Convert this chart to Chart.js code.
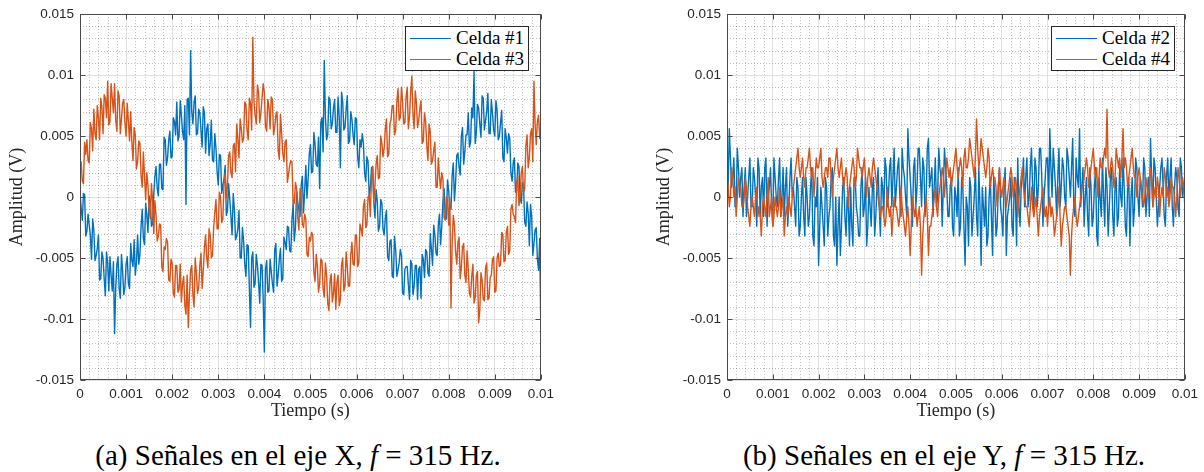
<!DOCTYPE html>
<html><head><meta charset="utf-8">
<script src="https://cdn.jsdelivr.net/npm/chart.js@4.4.1/dist/chart.umd.min.js"></script>
<style>
html,body{margin:0;padding:0;background:#fff;width:1204px;height:472px;overflow:hidden;}
canvas{position:absolute;top:0;}
.legend{position:absolute;border:1px solid #262626;background:#fff;box-sizing:border-box;}
.ln{position:absolute;left:4px;width:41px;height:1.4px;}
.lt{position:absolute;left:50px;font-family:"Liberation Serif",serif;font-size:19px;line-height:20px;color:#000;white-space:nowrap;}
.caption{position:absolute;top:441px;width:596px;text-align:center;font-family:"Liberation Serif",serif;font-size:29px;line-height:29px;color:#000;white-space:nowrap;}
</style></head><body>
<canvas id="cA" width="560" height="420" style="left:0"></canvas>
<canvas id="cB" width="557" height="420" style="left:647px"></canvas>

<div class="legend" style="left:405px;top:26px;width:124px;height:45px">
  <div class="ln" style="top:11px;background:#0072BD"></div><span class="lt" style="top:1px">Celda #1</span>
  <div class="ln" style="top:32px;background:#D95319"></div><span class="lt" style="top:22px">Celda #3</span>
</div>
<div class="legend" style="left:1051px;top:26px;width:124px;height:45px">
  <div class="ln" style="top:11px;background:#0072BD"></div><span class="lt" style="top:1px">Celda #2</span>
  <div class="ln" style="top:32px;background:#D95319"></div><span class="lt" style="top:22px">Celda #4</span>
</div>
<div class="caption" style="left:0">(a) Señales en el eje X, <i>f</i> = 315 Hz.</div>
<div class="caption" style="left:646px">(b) Señales en el eje Y, <i>f</i> = 315 Hz.</div>

<script>
// ---- data (amplitudes in mV) ----
// *_mV: samples at t = i * 0.05 ms ; *_medio_mV: samples at t = (i + 0.5) * 0.05 ms
const pasoMuestreo_s = 0.00005;

const celda1_mV = [
 0.4,-1.9,0.2,-2.8,-2.3,-5.1,-2.7,-4.8,-3.1,-6.7,
 -5.0,-8.1,-5.4,-4.9,-7.7,-11.2,-5.5,-7.5,-4.7,-8.0,
 -5.5,-7.1,-3.8,-5.7,-6.4,-3.1,-4.7,-1.0,-3.9,-1.5,
 0.1,-2.4,0.2,2.5,0.1,2.7,0.6,4.7,3.2,5.4,
 3.3,6.2,7.8,5.0,6.7,4.7,-0.6,8.1,12.0,6.0,
 8.3,5.2,6.9,4.1,6.9,5.6,3.4,6.3,2.9,4.0,
 1.0,3.4,1.0,2.6,-1.1,-0.2,-3.1,-1.0,-3.2,-1.1,
 -5.0,-3.6,-6.5,-4.0,-10.7,-4.5,-7.1,-5.6,-8.7,-5.6,
 -12.7,-5.2,-7.7,-6.1,-7.8,-3.8,-6.4,-4.2,-6.7,-3.7,
 -2.4,-4.4,-1.8,-3.6,0.5,-1.1,1.0,-1.3,2.6,1.5,
 4.3,2.1,4.3,2.5,0.7,6.5,11.2,4.7,8.2,5.6,
 7.3,5.3,8.2,2.4,7.8,5.7,8.3,4.6,6.4,4.3,
 6.4,2.4,4.1,4.4,1.3,2.9,0.7,2.5,-1.7,-0.3,
 -2.4,-0.5,-3.1,-1.1,-5.2,-3.5,-6.6,-4.3,-6.0,-4.3,
 -7.9,-5.9,-5.7,-8.4,-5.5,-7.3,-5.6,-5.9,-8.3,-5.1,
 -4.3,-6.2,-3.0,-5.6,-3.1,-4.8,-1.4,-2.4,0.7,-1.8,
 0.5,-1.0,2.8,1.2,3.6,1.8,5.7,3.7,5.1,4.1,
 7.3,10.3,5.3,7.3,4.9,8.1,6.3,8.5,5.2,6.9,
 5.0,7.1,5.0,7.1,2.9,4.9,5.2,2.0,2.8,0.4,
 2.8,-0.1,1.2,-2.1,-0.4,-4.0,-1.6,-3.8,-2.5,-6.0,-11.0
];
const celda1_medio_mV = [
 -0.9,0.3,-3.2,-1.4,-3.1,-1.8,-5.2,-4.2,-6.8,-4.5,
 -6.7,-4.5,-7.7,-6.4,-5.3,-7.5,-4.9,-8.3,-6.1,-7.4,
 -4.9,-7.5,-5.2,-3.5,-5.4,-5.5,-2.4,-3.4,-0.5,-2.9,
 -0.3,-2.2,1.7,0.7,2.7,0.7,4.9,2.6,4.7,3.2,
 6.5,5.1,4.6,7.9,5.4,7.5,8.0,5.1,7.0,7.8,
 5.1,7.2,5.5,7.4,3.6,6.0,4.3,3.0,5.2,2.1,
 3.5,0.3,1.5,-1.5,1.1,-1.6,0.3,-3.5,-2.6,-5.0,
 -2.5,-5.5,-3.9,-7.5,-5.0,-7.4,-4.7,-7.0,-5.5,-8.4,
 -5.9,-7.8,-5.1,-7.1,-4.3,-7.3,-5.1,-6.9,-3.3,-4.3,
 -2.5,-4.5,-0.6,-2.5,-0.4,-1.6,1.7,0.5,-0.1,3.5,
 2.0,5.3,2.7,4.9,6.1,3.7,6.5,5.1,8.0,6.0,
 8.0,5.3,6.6,8.6,5.5,7.2,4.4,7.0,5.1,6.5,
 3.3,4.7,5.2,2.0,3.3,0.1,2.4,-0.4,0.6,-2.8,
 -0.2,-2.6,-1.7,-4.9,-3.6,-6.5,-3.2,-6.5,-5.4,-4.8,
 -8.0,-5.7,-7.2,-5.2,-8.0,-5.6,-8.4,-5.7,-4.7,-6.6,
 -4.5,-6.5,-4.3,-2.3,-4.6,-2.3,-3.9,-0.4,-1.7,1.4,
 -0.9,1.8,-0.3,3.4,2.5,5.0,2.7,5.1,6.9,4.5,
 6.5,4.4,7.6,6.0,8.3,5.5,7.0,5.2,8.0,5.5,
 7.9,4.7,6.1,3.2,5.6,3.6,4.8,1.3,3.2,0.5,
 2.5,-0.5,0.8,-2.4,-1.3,-0.6,-4.8,-2.7,-5.1,-3.4
];
const celda3_mV = [
 2.0,1.3,4.5,4.7,2.8,5.6,7.2,4.7,6.5,8.1,
 5.2,8.1,9.5,6.2,8.1,9.3,5.4,8.3,6.4,8.0,
 5.0,6.2,7.0,3.0,5.1,2.9,4.4,0.8,1.7,2.0,
 -1.0,1.1,-3.0,-1.5,-3.2,-2.3,-6.1,-4.3,-3.7,-6.9,
 -5.4,-8.2,-5.6,-7.6,-8.6,-6.5,-9.6,-10.7,-6.0,-8.0,
 -5.0,-7.9,-5.6,-7.5,-4.2,-5.0,-2.6,-5.0,-2.5,-0.2,
 -2.6,0.0,-1.8,1.9,1.0,3.7,1.6,4.4,6.0,3.2,
 5.6,4.8,7.6,4.7,7.7,13.1,6.7,9.2,6.1,8.1,
 8.6,5.4,7.4,8.2,5.1,6.7,3.8,6.8,3.6,4.5,
 1.2,2.6,2.8,-0.5,0.7,-2.7,0.0,-2.5,-1.8,-4.9,
 -3.6,-3.1,-6.9,-5.6,-7.1,-5.2,-8.2,-6.4,-9.3,-6.3,
 -7.9,-9.2,-6.4,-8.4,-5.0,-7.3,-5.7,-7.3,-3.7,-5.6,
 -3.1,-5.4,-2.6,-0.8,-2.5,0.0,-1.6,2.5,1.0,3.4,
 1.6,4.4,4.0,6.4,3.5,6.4,7.5,5.5,8.9,6.5,
 7.8,6.1,9.0,6.6,9.9,5.6,7.7,6.3,7.9,4.6,
 6.2,3.0,5.3,3.0,4.5,0.8,1.7,2.0,-1.7,0.0,
 -2.3,-9.1,-1.5,-4.5,-3.7,-6.7,-4.1,-6.4,-4.4,-7.9,
 -6.5,-8.7,-6.4,-10.3,-6.2,-8.4,-5.8,-8.4,-6.6,-5.1,
 -7.8,-5.0,-5.7,-2.9,-5.3,-2.9,-4.7,-1.0,-1.4,-2.1,
 1.7,0.0,2.5,0.7,5.1,3.2,5.6,9.5,4.3,6.7,5.8
];
const celda3_medio_mV = [
 2.9,1.1,3.5,3.0,6.1,3.8,5.2,7.5,4.7,7.4,
 8.4,6.5,5.9,9.3,6.9,6.3,8.7,5.2,7.7,6.1,
 7.7,4.6,4.5,5.7,2.3,4.6,1.8,3.7,-0.2,0.9,
 -1.8,-0.3,-0.3,-3.6,-2.2,-5.7,-4.1,-3.4,-6.8,-5.1,
 -7.9,-5.6,-7.8,-5.5,-7.1,-8.9,-6.4,-8.0,-5.6,-9.0,
 -6.2,-7.4,-4.6,-6.0,-3.1,-5.8,-3.1,-4.8,-1.3,-2.6,
 0.4,-2.1,1.1,-0.1,3.4,2.0,4.2,2.1,4.8,6.4,
 4.5,7.8,5.5,8.1,5.5,7.8,6.0,8.6,6.9,9.3,
 5.8,8.0,5.6,8.0,5.7,7.0,3.1,5.2,2.9,4.7,
 1.9,3.0,-0.6,1.2,-1.7,0.7,-2.2,-1.4,-4.7,-3.3,
 -2.9,-6.2,-4.7,-7.8,-5.1,-7.5,-5.4,-8.7,-6.9,-8.6,
 -6.3,-7.0,-8.9,-5.6,-7.7,-4.5,-7.3,-4.8,-5.5,-3.1,
 -5.7,-2.2,-3.2,-0.2,-2.3,0.2,1.7,-0.4,2.7,1.5,
 5.0,3.3,5.6,3.3,6.0,7.5,5.1,7.8,6.3,9.0,
 6.0,8.2,5.6,8.6,6.8,8.7,5.7,7.3,4.4,6.9,
 4.2,6.0,2.7,3.8,0.8,3.2,0.7,1.5,-1.9,-0.3,
 -0.1,-3.8,-2.3,-5.5,-3.3,-5.7,-3.8,-7.0,-5.9,-8.2,
 -5.5,-8.2,-6.1,-9.3,-6.8,-8.5,-5.4,-8.3,-6.4,-4.9,
 -7.7,-4.6,-5.6,-3.1,-5.2,-2.4,-4.4,-0.6,-1.6,1.2,
 -0.7,2.0,0.4,4.2,2.4,5.2,2.9,6.0,6.2,4.8
];
const celda2_mV = [
 2.4,5.6,0.8,3.2,-0.8,2.4,1.6,-1.6,2.4,0.0,
 3.2,-0.8,1.6,-2.4,2.4,0.8,-1.6,3.2,0.0,2.4,
 -2.4,1.6,-0.8,3.2,0.0,-1.6,2.4,-0.8,3.2,0.8,
 -2.4,0.8,-2.4,1.6,-3.2,0.0,-1.6,2.4,-4.0,-0.8,
 -5.6,0.8,-2.4,1.6,-3.2,-0.8,2.4,-4.0,-5.6,0.0,
 -2.4,1.6,-3.2,-0.8,0.8,-4.0,1.6,-1.6,-3.2,2.4,
 -0.8,-4.0,0.8,-2.4,1.6,-1.6,2.4,-3.2,0.8,3.2,
 -0.8,2.4,-0.8,4.0,0.8,3.2,-1.6,2.4,0.0,5.6,
 1.6,-2.4,3.2,0.8,4.0,-0.8,2.4,0.0,4.8,1.6,
 -1.6,3.2,0.0,2.4,-2.4,4.0,0.8,-1.6,1.6,-3.2,
 0.0,2.4,-2.4,0.8,-5.6,-0.8,1.6,-3.2,0.0,-1.6,
 2.4,-5.6,-0.8,0.8,-3.2,1.6,-4.8,0.0,-2.4,2.4,
 -1.6,0.8,-4.8,-0.8,1.6,-3.2,0.0,3.2,-2.4,1.6,
 -0.8,3.2,0.0,4.0,-1.6,2.4,0.8,4.0,-2.4,1.6,
 3.2,5.6,0.0,2.4,-1.6,4.0,0.8,2.4,-0.8,3.2,
 0.0,4.8,-1.6,1.6,5.6,0.8,-2.4,1.6,-3.2,0.8,
 -1.6,2.4,-4.0,0.0,3.2,-2.4,0.8,-0.8,2.4,-3.2,
 1.6,-1.6,0.0,3.2,-2.4,0.8,-4.0,1.6,-0.8,2.4,
 -1.6,0.8,3.2,-1.6,1.6,4.8,-0.8,2.4,-2.4,0.8,
 3.2,-1.6,1.6,0.0,3.2,-2.4,2.4,-0.8,3.2,0.0,1.6
];
const celda2_medio_mV = [
 0.8,3.2,1.6,-0.8,4.0,0.0,2.4,0.8,-1.6,1.6,
 -0.8,2.4,0.0,3.2,-1.6,1.6,2.4,-2.4,0.8,-0.8,
 3.2,0.0,1.6,-1.6,2.4,0.8,-2.4,1.6,0.0,-0.8,
 1.6,-3.2,0.0,-1.6,1.6,-2.4,0.8,-3.2,0.0,1.6,
 -2.4,-0.8,-4.0,0.8,-1.6,1.6,-3.2,0.0,-2.4,-4.8,
 0.8,-1.6,0.0,-4.0,-2.4,1.6,-0.8,-3.2,0.8,-1.6,
 1.6,-2.4,-0.8,0.8,-3.2,0.8,-0.8,1.6,-1.6,2.4,
 0.0,3.2,1.6,-0.8,2.4,0.0,4.0,1.6,-1.6,3.2,
 0.0,2.4,-0.8,4.0,1.6,3.2,-1.6,4.0,0.8,2.4,
 0.8,-0.8,4.0,1.6,0.8,2.4,-1.6,0.8,-2.4,0.8,
 -1.6,-3.2,1.6,-2.4,0.0,-4.0,0.8,-1.6,2.4,-3.2,
 -0.8,0.8,-2.4,-4.0,0.0,-1.6,1.6,-3.2,0.8,-0.8,
 -3.2,2.4,-1.6,0.0,-2.4,1.6,-4.0,-0.8,0.8,3.2,
 1.6,-0.8,2.4,0.8,3.2,-0.8,4.0,1.6,0.0,3.2,
 -0.8,2.4,4.0,0.8,1.6,-0.8,3.2,0.0,4.0,1.6,
 2.4,-0.8,3.2,0.8,-0.8,2.4,0.0,-1.6,2.4,-2.4,
 0.8,-3.2,1.6,-1.6,0.0,2.4,-3.2,1.6,-1.6,0.8,
 -2.4,2.4,-0.8,0.8,-3.2,1.6,0.0,-2.4,3.2,0.0,
 1.6,-0.8,2.4,0.0,-1.6,1.6,3.2,0.0,-0.8,2.4,
 0.8,-2.4,3.2,1.6,-0.8,0.8,1.6,-1.6,2.4,0.8
];
const celda4_mV = [
 1.6,-0.8,2.4,0.0,-1.6,1.6,0.8,-0.8,1.6,-0.8,
 -2.4,0.0,-1.6,0.8,-0.8,-3.2,0.0,-1.6,1.6,-0.8,
 -2.4,0.0,-1.6,0.8,-0.8,-3.2,-0.8,0.0,-1.6,0.8,
 2.4,4.0,1.6,3.2,0.8,2.4,4.0,1.6,0.0,3.2,
 2.4,4.0,0.8,2.4,1.6,3.2,0.0,2.4,4.0,1.6,
 3.2,0.8,2.4,-0.8,1.6,3.2,0.8,4.0,2.4,1.6,
 3.2,0.0,2.4,0.8,3.2,1.6,0.0,-1.6,-0.8,-2.4,
 0.8,-1.6,-3.2,0.0,-0.8,-2.4,0.8,-1.6,-3.2,-0.8,
 -4.8,0.0,-1.6,-2.4,-0.8,-6.4,-1.6,0.0,-4.8,-2.4,
 -0.8,0.8,-1.6,0.8,2.4,0.0,3.2,1.6,0.8,2.4,
 4.0,1.6,3.2,0.8,4.0,2.4,4.8,3.2,1.6,6.4,
 2.4,4.8,3.2,1.6,4.0,0.8,2.4,1.6,-0.8,2.4,
 0.0,1.6,-0.8,0.8,2.4,0.0,1.6,-1.6,0.8,2.4,
 0.0,-0.8,-2.4,0.8,-1.6,0.0,-3.2,-0.8,0.8,-1.6,
 -2.4,0.0,-0.8,-3.2,-1.6,0.8,-4.0,-1.6,-0.8,-2.4,
 -6.4,-1.6,0.0,-2.4,-0.8,0.8,1.6,3.2,0.8,2.4,
 4.0,1.6,0.0,3.2,2.4,4.0,7.2,1.6,3.2,0.8,
 4.0,2.4,1.6,5.6,3.2,0.8,2.4,4.0,1.6,0.0,
 2.4,0.8,-0.8,1.6,0.0,2.4,-0.8,0.8,1.6,-1.6,
 0.8,2.4,0.0,-0.8,1.6,0.8,-1.6,2.4,0.0,1.6,-0.8
];
const celda4_medio_mV = [
 0.8,0.0,1.6,0.8,0.0,0.8,-0.8,0.0,0.8,-1.6,
 -0.8,-0.8,0.0,-1.6,-1.6,-0.8,-0.8,0.0,-1.6,0.0,
 -1.6,-0.8,-0.8,-1.6,0.0,-1.6,-1.6,-0.8,0.0,1.6,
 3.2,2.4,2.4,1.6,2.4,3.2,2.4,2.4,1.6,2.4,
 3.2,1.6,1.6,2.4,3.2,1.6,1.6,3.2,2.4,2.4,
 1.6,1.6,1.6,0.8,2.4,2.4,1.6,3.2,2.4,2.4,
 1.6,1.6,1.6,2.4,2.4,0.8,-0.8,-0.8,-1.6,-1.6,
 -0.8,-0.8,-1.6,-0.8,-1.6,-1.6,-0.8,-2.4,-1.6,-2.4,
 -2.4,-0.8,-0.8,-1.6,-2.4,-3.2,-0.8,-1.6,-2.4,-1.6,
 0.0,-0.8,0.0,1.6,1.6,1.6,2.4,2.4,1.6,3.2,
 2.4,2.4,2.4,3.2,2.4,3.2,4.0,2.4,3.2,4.0,
 3.2,4.0,2.4,2.4,3.2,1.6,1.6,0.8,0.8,0.8,
 0.8,0.8,0.0,1.6,1.6,0.8,0.8,0.0,1.6,0.8,
 -0.8,-1.6,-0.8,-0.8,-0.8,-1.6,-1.6,0.0,-0.8,-0.8,
 -0.8,-1.6,-1.6,-2.4,-0.8,-1.6,-2.4,-0.8,-1.6,-3.2,
 -3.2,-0.8,-1.6,-1.6,0.0,0.8,2.4,2.4,1.6,3.2,
 2.4,2.4,1.6,2.4,3.2,3.2,2.4,2.4,2.4,1.6,
 3.2,3.2,3.2,2.4,2.4,1.6,3.2,2.4,1.6,1.6,
 1.6,0.0,0.0,0.8,0.8,1.6,0.0,0.0,0.8,0.0,
 0.0,1.6,0.8,0.0,0.8,0.0,0.0,1.6,0.8,0.8
];

const tiempoTicks = [0,0.001,0.002,0.003,0.004,0.005,0.006,0.007,0.008,0.009,0.01];
const tiempoTickLabels = ['0','0.001','0.002','0.003','0.004','0.005','0.006','0.007','0.008','0.009','0.01'];
const amplitudTicks = [-0.015,-0.01,-0.005,0,0.005,0.01,0.015];
const amplitudTickLabels = ['-0.015','-0.01','-0.005','0','0.005','0.01','0.015'];
const pasoMenorX = 0.0002, pasoMenorY = 0.001;

const AZUL = '#0072BD', NARANJA = '#D95319';

// merge the on-grid samples and the half-step samples into one time series (mV -> V)
function aPuntos(muestras, medios) {
  const pts = [];
  muestras.forEach((v, i) => {
    pts.push({x: i * pasoMuestreo_s, y: v / 1000});
    if (i < medios.length) pts.push({x: (i + 0.5) * pasoMuestreo_s, y: medios[i] / 1000});
  });
  return pts;
}

const matlabAxes = {
  id: 'matlabAxes',
  beforeDatasetsDraw(chart) {
    const {ctx, chartArea: a, scales: {x, y}} = chart;
    ctx.save();
    ctx.strokeStyle = 'rgba(38,38,38,0.30)';
    ctx.lineWidth = 1;
    ctx.setLineDash([1, 2]);
    ctx.beginPath();
    const nx = Math.round((x.max - x.min) / pasoMenorX);
    for (let k = 1; k < nx; k++) {
      if (k % 5 === 0) continue;
      const px = Math.round(x.getPixelForValue(x.min + k * pasoMenorX)) + 0.5;
      ctx.moveTo(px, a.top); ctx.lineTo(px, a.bottom);
    }
    const ny = Math.round((y.max - y.min) / pasoMenorY);
    for (let k = 1; k < ny; k++) {
      if (k % 5 === 0) continue;
      const py = Math.round(y.getPixelForValue(y.min + k * pasoMenorY)) + 0.5;
      ctx.moveTo(a.left, py); ctx.lineTo(a.right, py);
    }
    ctx.stroke();
    ctx.restore();
  },
  afterDraw(chart) {
    const {ctx, chartArea: a, scales: {x, y}} = chart;
    ctx.save();
    ctx.strokeStyle = '#4a4a4a';
    ctx.lineWidth = 1;
    const L = Math.round(a.left) + 0.5, R = Math.round(a.right) - 0.5;
    const T = Math.round(a.top) + 0.5, B = Math.round(a.bottom) - 0.5;
    ctx.strokeRect(L, T, R - L, B - T);
    ctx.beginPath();
    tiempoTicks.forEach(v => {
      const px = Math.round(x.getPixelForValue(v)) + 0.5;
      ctx.moveTo(px, B); ctx.lineTo(px, B - 5);
      ctx.moveTo(px, T); ctx.lineTo(px, T + 5);
    });
    amplitudTicks.forEach(v => {
      const py = Math.round(y.getPixelForValue(v)) + 0.5;
      ctx.moveTo(L, py); ctx.lineTo(L + 5, py);
      ctx.moveTo(R, py); ctx.lineTo(R - 5, py);
    });
    ctx.stroke();
    ctx.restore();
  }
};

function crearGrafico(id, serieA, medioA, serieB, medioB, nombreA, nombreB, padDer) {
  return new Chart(document.getElementById(id), {
    type: 'line',
    data: {
      datasets: [
        {label: nombreA, data: aPuntos(serieA, medioA), borderColor: AZUL, borderWidth: 1.4, pointRadius: 0, order: 1, fill: false},
        {label: nombreB, data: aPuntos(serieB, medioB), borderColor: NARANJA, borderWidth: 1.4, pointRadius: 0, order: 0, fill: false}
      ]
    },
    options: {
      responsive: false, animation: false, events: [],
      layout: {padding: {left: 0, right: padDer, top: 14, bottom: 0}},
      plugins: {legend: {display: false}, tooltip: {enabled: false}},
      elements: {line: {tension: 0, borderJoinStyle: 'round'}},
      scales: {
        x: {
          type: 'linear', min: 0, max: 0.01,
          afterFit(s) { s.height = 40; },
          afterBuildTicks(s) { s.ticks = tiempoTicks.map(v => ({value: v})); },
          ticks: {autoSkip: false, maxRotation: 0, minRotation: 0, padding: 6, color: '#262626',
                  font: {family: '"Liberation Sans", Arial, sans-serif', size: 13.5},
                  callback: (v, i) => tiempoTickLabels[i]},
          grid: {color: '#e2e2e2', lineWidth: 1, drawTicks: false},
          border: {display: false},
          title: {display: true, text: 'Tiempo (s)', color: '#262626',
                  font: {family: '"Liberation Serif", serif', size: 18, lineHeight: 1},
                  padding: {top: 0, bottom: 0}}
        },
        y: {
          type: 'linear', min: -0.015, max: 0.015,
          afterFit(s) { s.width = 80; },
          afterBuildTicks(s) { s.ticks = amplitudTicks.map(v => ({value: v})); },
          ticks: {autoSkip: false, padding: 6, color: '#262626',
                  font: {family: '"Liberation Sans", Arial, sans-serif', size: 13.5},
                  callback: (v, i) => amplitudTickLabels[i]},
          grid: {color: '#e2e2e2', lineWidth: 1, drawTicks: false},
          border: {display: false},
          title: {display: true, text: 'Amplitud (V)', color: '#262626',
                  font: {family: '"Liberation Serif", serif', size: 18, lineHeight: 1},
                  padding: {top: 8, bottom: 0}}
        }
      }
    },
    plugins: [matlabAxes]
  });
}

crearGrafico('cA', celda1_mV, celda1_medio_mV, celda3_mV, celda3_medio_mV, 'Celda #1', 'Celda #3', 19);
crearGrafico('cB', celda2_mV, celda2_medio_mV, celda4_mV, celda4_medio_mV, 'Celda #2', 'Celda #4', 18);
</script>
</body></html>
